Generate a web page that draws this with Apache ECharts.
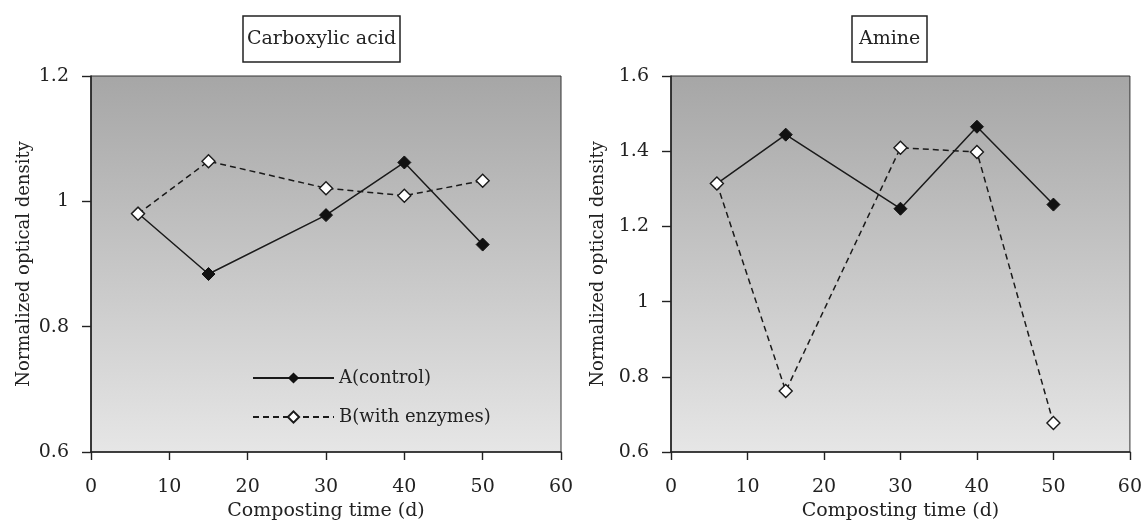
<!DOCTYPE html>
<html>
<head>
<meta charset="utf-8">
<script src="https://cdn.jsdelivr.net/npm/echarts@6/dist/echarts.min.js"></script>
<style>
html,body{margin:0;padding:0;background:#fff;}
#chart{width:1145px;height:529px;}
</style>
</head>
<body>
<div id="chart"></div>
<script>
// ---- data ----
const days = [6, 15, 30, 40, 50];
const carboxylicA = [0.981, 0.884, 0.978, 1.062, 0.931];
const carboxylicB = [0.980, 1.064, 1.021, 1.009, 1.033];
const amineA = [1.314, 1.444, 1.247, 1.465, 1.258];
const amineB = [1.314, 0.762, 1.409, 1.398, 0.677];
const seriesNames = ['A(control)', 'B(with enzymes)'];
const panelTitles = ['Carboxylic acid', 'Amine'];
const xAxisTitle = 'Composting time (d)';
const yAxisTitle = 'Normalized optical density';

const FONT = '"DejaVu Serif", "Liberation Serif", serif';
const TXT = '#222';

function pairs(xs, ys) { return xs.map((x, i) => [x, ys[i]]); }

const bg = new echarts.graphic.LinearGradient(0, 0, 0, 1, [
  { offset: 0, color: '#a6a6a6' },
  { offset: 1, color: '#e6e6e6' }
]);

function gridDef(left, right) {
  return {
    left: left, right: right, top: 76, bottom: 77,
    show: true, backgroundColor: bg, borderColor: '#333', borderWidth: 1
  };
}

function xAxisDef(idx) {
  return {
    type: 'value', gridIndex: idx, min: 0, max: 60, interval: 10,
    name: xAxisTitle, nameLocation: 'middle', nameGap: 48,
    nameTextStyle: { fontFamily: FONT, fontSize: 19, color: TXT },
    axisLine: { show: true, onZero: false, lineStyle: { color: '#222', width: 1.6 } },
    axisTick: { show: true, inside: false, length: 8, lineStyle: { color: '#222', width: 1.4 } },
    axisLabel: { fontFamily: FONT, fontSize: 19, color: TXT, margin: 26 },
    splitLine: { show: false }
  };
}

function yAxisDef(idx, min, max, gap) {
  return {
    type: 'value', gridIndex: idx, min: min, max: max, interval: 0.2,
    name: yAxisTitle, nameLocation: 'middle', nameGap: gap,
    nameTextStyle: { fontFamily: FONT, fontSize: 18, color: TXT },
    axisLine: { show: true, onZero: false, lineStyle: { color: '#222', width: 1.6 } },
    axisTick: { show: true, inside: false, length: 9, lineStyle: { color: '#222', width: 1.4 } },
    axisLabel: {
      fontFamily: FONT, fontSize: 19, color: TXT, margin: 22,
      formatter: v => String(parseFloat(v.toFixed(1)))
    },
    splitLine: { show: false }
  };
}

function seriesA(idx, data) {
  return {
    name: seriesNames[0], type: 'line', xAxisIndex: idx, yAxisIndex: idx,
    data: pairs(days, data), symbol: 'diamond', symbolSize: 13,
    itemStyle: { color: '#111', borderColor: '#111' },
    lineStyle: { color: '#1a1a1a', width: 1.5, type: 'solid' },
    z: 3, animation: false
  };
}
function seriesB(idx, data) {
  return {
    name: seriesNames[1], type: 'line', xAxisIndex: idx, yAxisIndex: idx,
    data: pairs(days, data), symbol: 'diamond', symbolSize: 13,
    itemStyle: { color: '#fff', borderColor: '#1a1a1a', borderWidth: 1.4 },
    lineStyle: { color: '#1a1a1a', width: 1.5, type: [6, 4] },
    z: 4, animation: false
  };
}

const titleStyle = { fontFamily: FONT, fontSize: 19, fontWeight: 'normal', color: TXT };

const option = {
  backgroundColor: '#fff',
  animation: false,
  title: [
    { text: panelTitles[0], left: 243, top: 16, textStyle: titleStyle,
      borderColor: '#222', borderWidth: 1.5, padding: [14, 4, 13, 4] },
    { text: panelTitles[1], left: 852, top: 16, textStyle: titleStyle,
      borderColor: '#222', borderWidth: 1.5, padding: [14, 7, 13, 7] }
  ],
  legend: {
    data: seriesNames, orient: 'vertical', left: 247, top: 364,
    itemWidth: 81, itemHeight: 14, itemGap: 21,
    textStyle: { fontFamily: FONT, fontSize: 18, color: TXT }
  },
  grid: [gridDef(91, 584), gridDef(671, 10)],
  xAxis: [xAxisDef(0), xAxisDef(1)],
  yAxis: [yAxisDef(0, 0.6, 1.2, 58), yAxisDef(1, 0.6, 1.6, 64)],
  series: [
    seriesA(0, carboxylicA), seriesB(0, carboxylicB),
    seriesA(1, amineA), seriesB(1, amineB)
  ]
};

const chart = echarts.init(document.getElementById('chart'), null, { renderer: 'canvas' });
chart.setOption(option);
</script>
</body>
</html>
